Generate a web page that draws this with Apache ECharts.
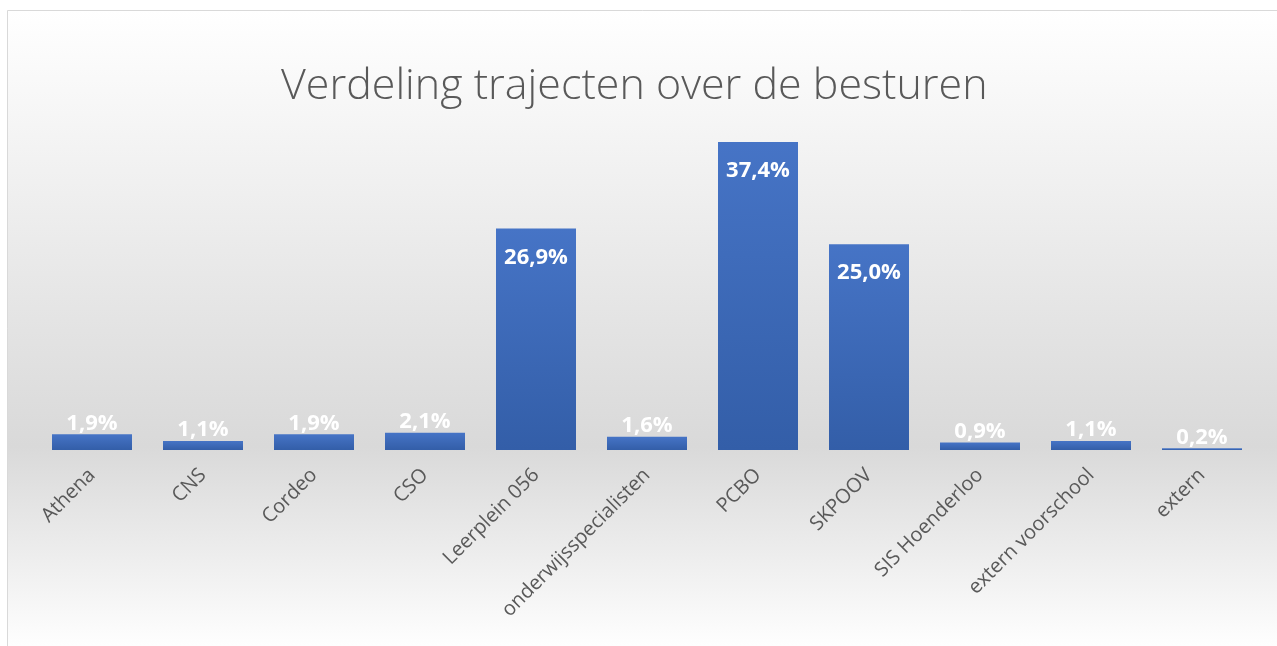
<!DOCTYPE html>
<html>
<head>
<meta charset="utf-8">
<script src="https://cdn.jsdelivr.net/npm/echarts@6/dist/echarts.min.js"></script>
<style>html,body{margin:0;padding:0;background:#fff;}#c{width:1277px;height:646px;}</style>
</head>
<body>
<div id="c"></div>
<script>
const categories = ['Athena','CNS','Cordeo','CSO','Leerplein 056','onderwijsspecialisten','PCBO','SKPOOV','SIS Hoenderloo','extern voorschool','extern'];
const values = [1.9, 1.1, 1.9, 2.1, 26.9, 1.6, 37.4, 25.0, 0.9, 1.1, 0.2];
const titleText = 'Verdeling trajecten over de besturen';

const chart = echarts.init(document.getElementById('c'));
const fmt = v => v.toFixed(1).replace('.', ',') + '%';
const data = values.map(v => ({
  value: v,
  label: v > 10
    ? {position: 'insideTop', distance: 18}
    : {position: 'top', distance: 0}
}));
chart.setOption({
  animation: false,
  graphic: [{
    type: 'rect', z: -10,
    shape: {x: 7.5, y: 10.5, width: 1280, height: 640},
    style: {
      fill: new echarts.graphic.LinearGradient(0, 0, 0, 1, [
        {offset: 0, color: '#ffffff'},
        {offset: 0.68, color: '#d9d9d9'},
        {offset: 1, color: '#ffffff'}
      ]),
      stroke: '#d9d9d9', lineWidth: 1
    }
  }],
  title: {
    text: titleText, left: 276, top: 60,
    textStyle: {fontFamily: 'Open Sans', fontWeight: 300, fontSize: 43, color: '#595959'}
  },
  grid: {left: 36.5, right: 19.5, top: 120.6, bottom: 196},
  xAxis: {
    type: 'category', data: categories,
    axisLine: {show: false}, axisTick: {show: false},
    axisLabel: {rotate: 45, margin: 22, interval: 0, color: '#595959', fontFamily: 'Open Sans', fontSize: 20}
  },
  yAxis: {type: 'value', min: 0, max: 40, show: false},
  series: [{
    type: 'bar', data: data, barWidth: 80,
    itemStyle: {
      color: new echarts.graphic.LinearGradient(0, 0, 0, 1, [
        {offset: 0, color: '#4674c6'},
        {offset: 1, color: '#335ea8'}
      ])
    },
    label: {
      show: true, color: '#ffffff', fontFamily: 'Open Sans', fontWeight: 'bold', fontSize: 22,
      formatter: p => fmt(p.value)
    }
  }]
});
</script>
</body>
</html>
